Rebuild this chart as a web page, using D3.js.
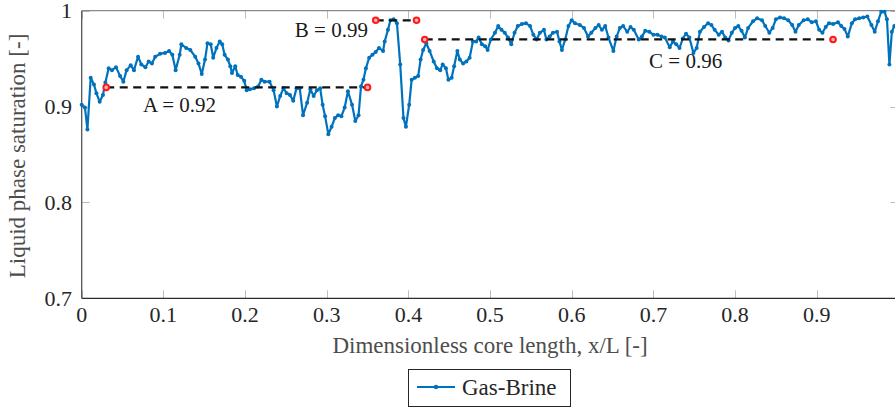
<!doctype html>
<html>
<head>
<meta charset="UTF-8">
<title>Liquid phase saturation</title>
<style>
	body { margin: 0; background: #fff; }
	#container { font-size: 0; }
	svg text { font-family: "Liberation Serif", "Times New Roman", "DejaVu Serif", serif; }
</style>
</head>
<body>
<div id="container"></div>
<script src="https://cdn.jsdelivr.net/npm/d3@7"></script>
<script>
	var w = 895;
	var h = 408;

	// x/L positions and liquid saturation
	var xPos = [0.000, 0.004, 0.007, 0.011, 0.015, 0.018, 0.022, 0.026, 0.029, 0.033,
		0.037, 0.042, 0.047, 0.051, 0.055, 0.060, 0.064, 0.069, 0.073, 0.078,
		0.082, 0.086, 0.090, 0.096, 0.102, 0.107, 0.111, 0.115, 0.120, 0.122,
		0.128, 0.133, 0.139, 0.143, 0.147, 0.151, 0.154, 0.158, 0.161, 0.165,
		0.169, 0.172, 0.175, 0.179, 0.182, 0.184, 0.188, 0.191, 0.195, 0.199,
		0.202, 0.206, 0.211, 0.216, 0.220, 0.224, 0.230, 0.235, 0.239, 0.243,
		0.247, 0.251, 0.255, 0.259, 0.263, 0.267, 0.271, 0.276, 0.280, 0.284,
		0.288, 0.292, 0.295, 0.298, 0.302, 0.306, 0.310, 0.314, 0.318, 0.322,
		0.326, 0.331, 0.335, 0.339, 0.342, 0.345, 0.348, 0.352, 0.356, 0.360,
		0.364, 0.369, 0.371, 0.375, 0.378, 0.382, 0.386, 0.390, 0.394, 0.397,
		0.401, 0.404, 0.408, 0.412, 0.415, 0.418, 0.422, 0.426, 0.431, 0.435,
		0.439, 0.442, 0.446, 0.449, 0.453, 0.456, 0.460, 0.463, 0.467, 0.471,
		0.475, 0.479, 0.483, 0.486, 0.490, 0.494, 0.497, 0.501, 0.506, 0.510,
		0.514, 0.518, 0.522, 0.526, 0.530, 0.534, 0.539, 0.544, 0.549, 0.553,
		0.557, 0.561, 0.566, 0.569, 0.573, 0.577, 0.582, 0.585, 0.588, 0.592,
		0.596, 0.600, 0.604, 0.610, 0.615, 0.620, 0.624, 0.629, 0.633, 0.637,
		0.641, 0.645, 0.651, 0.655, 0.659, 0.663, 0.668, 0.672, 0.676, 0.682,
		0.686, 0.690, 0.695, 0.700, 0.705, 0.710, 0.714, 0.720, 0.724, 0.728,
		0.732, 0.736, 0.740, 0.744, 0.749, 0.753, 0.757, 0.762, 0.767, 0.771,
		0.775, 0.780, 0.784, 0.788, 0.792, 0.796, 0.800, 0.804, 0.808, 0.812,
		0.816, 0.822, 0.827, 0.833, 0.837, 0.842, 0.846, 0.850, 0.855, 0.860,
		0.865, 0.870, 0.874, 0.878, 0.884, 0.889, 0.894, 0.899, 0.903, 0.907,
		0.911, 0.915, 0.920, 0.926, 0.930, 0.934, 0.938, 0.943, 0.947, 0.952,
		0.957, 0.962, 0.967, 0.971, 0.975, 0.979, 0.983, 0.986, 0.989, 0.992,
		0.995, 0.999];
	var saturation = [0.902, 0.899, 0.876, 0.930, 0.923, 0.914, 0.905, 0.912, 0.925, 0.940,
		0.938, 0.941, 0.932, 0.926, 0.938, 0.943, 0.938, 0.952, 0.944, 0.941,
		0.947, 0.945, 0.952, 0.955, 0.956, 0.958, 0.954, 0.938, 0.954, 0.965,
		0.961, 0.959, 0.952, 0.945, 0.934, 0.949, 0.966, 0.965, 0.951, 0.961,
		0.968, 0.965, 0.954, 0.949, 0.942, 0.935, 0.942, 0.933, 0.931, 0.927,
		0.917, 0.918, 0.919, 0.921, 0.928, 0.926, 0.926, 0.917, 0.900, 0.911,
		0.919, 0.914, 0.912, 0.906, 0.919, 0.919, 0.891, 0.904, 0.918, 0.911,
		0.917, 0.919, 0.902, 0.890, 0.871, 0.879, 0.888, 0.891, 0.890, 0.899,
		0.916, 0.902, 0.885, 0.891, 0.921, 0.928, 0.940, 0.951, 0.954, 0.957,
		0.961, 0.958, 0.968, 0.980, 0.990, 0.991, 0.987, 0.944, 0.888, 0.879,
		0.902, 0.928, 0.930, 0.932, 0.949, 0.959, 0.966, 0.958, 0.947, 0.940,
		0.938, 0.944, 0.940, 0.928, 0.930, 0.942, 0.958, 0.949, 0.945, 0.947,
		0.951, 0.968, 0.968, 0.972, 0.965, 0.963, 0.959, 0.970, 0.977, 0.984,
		0.980, 0.977, 0.972, 0.965, 0.977, 0.984, 0.986, 0.987, 0.984, 0.975,
		0.970, 0.977, 0.980, 0.970, 0.973, 0.977, 0.978, 0.968, 0.959, 0.970,
		0.984, 0.990, 0.987, 0.985, 0.982, 0.973, 0.977, 0.982, 0.985, 0.980,
		0.984, 0.972, 0.958, 0.973, 0.982, 0.984, 0.978, 0.983, 0.980, 0.970,
		0.973, 0.979, 0.978, 0.975, 0.975, 0.973, 0.972, 0.962, 0.968, 0.965,
		0.961, 0.971, 0.976, 0.972, 0.956, 0.961, 0.978, 0.983, 0.987, 0.985,
		0.980, 0.975, 0.978, 0.972, 0.969, 0.977, 0.982, 0.984, 0.979, 0.972,
		0.982, 0.989, 0.992, 0.990, 0.984, 0.977, 0.982, 0.991, 0.993, 0.992,
		0.990, 0.985, 0.978, 0.985, 0.990, 0.991, 0.988, 0.989, 0.980, 0.977,
		0.983, 0.987, 0.986, 0.988, 0.984, 0.981, 0.973, 0.987, 0.991, 0.992,
		0.993, 0.994, 0.985, 0.978, 0.989, 0.999, 0.999, 0.991, 0.944, 0.978,
		0.984, 0.982];

	var xTicks = [0, 0.1, 0.2, 0.3, 0.4, 0.5, 0.6, 0.7, 0.8, 0.9, 1];
	var yTicks = [0.7, 0.8, 0.9, 1];

	// marked levels A, B, C
	var levelNames = ["A", "B", "C"];
	var levelValues = [0.92, 0.99, 0.96];
	var levelLineY = [0.92, 0.99, 0.97];
	var levelStart = [0.03, 0.36, 0.42];
	var levelEnd = [0.35, 0.41, 0.92];

	var seriesName = "Gas-Brine";

	var serif = "'Liberation Serif', 'Times New Roman', 'DejaVu Serif', serif";

	var xScale = d3.scaleLinear().domain([0, 1]).range([81.7, 898.4]);
	var yScale = d3.scaleLinear().domain([0.7, 1]).range([298.3, 10.7]);

	var svg = d3.select("#container")
			.append("svg")
			.attr("width", w)
			.attr("height", h)
			.attr("font-family", serif)
			.style("font-family", serif);

	// ticks inside the box (bottom / left / top / right)
	var tickLen = 8;
	var gTicks = svg.append("g").attr("stroke", "#bdbdbd").attr("stroke-width", 1);
	xTicks.forEach(function (t) {
		var x = Math.round(xScale(t)) + 0.5;
		gTicks.append("line").attr("x1", x).attr("x2", x)
				.attr("y1", yScale(0.7)).attr("y2", yScale(0.7) - tickLen);
		gTicks.append("line").attr("x1", x).attr("x2", x)
				.attr("y1", yScale(1)).attr("y2", yScale(1) + tickLen);
	});
	yTicks.forEach(function (t) {
		var y = Math.round(yScale(t)) + 0.5;
		gTicks.append("line").attr("x1", xScale(0)).attr("x2", xScale(0) + tickLen)
				.attr("y1", y).attr("y2", y);
		gTicks.append("line").attr("x1", xScale(1)).attr("x2", xScale(1) - tickLen)
				.attr("y1", y).attr("y2", y);
	});

	// box
	svg.append("line").attr("x1", xScale(0)).attr("x2", xScale(1))
			.attr("y1", yScale(1)).attr("y2", yScale(1))
			.attr("stroke", "#8a8a8a").attr("stroke-width", 1.2);
	svg.append("line").attr("x1", xScale(1)).attr("x2", xScale(1))
			.attr("y1", yScale(1)).attr("y2", yScale(0.7))
			.attr("stroke", "#8a8a8a").attr("stroke-width", 1.2);
	svg.append("line").attr("x1", xScale(0)).attr("x2", xScale(1))
			.attr("y1", yScale(0.7)).attr("y2", yScale(0.7))
			.attr("stroke", "#2b2b2b").attr("stroke-width", 1.3);
	svg.append("line").attr("x1", xScale(0)).attr("x2", xScale(0))
			.attr("y1", yScale(1)).attr("y2", yScale(0.7))
			.attr("stroke", "#555555").attr("stroke-width", 1.3);

	// tick labels
	svg.selectAll("text.xt")
			.data(xTicks)
			.enter()
			.append("text")
			.attr("class", "xt")
			.attr("x", function (d) { return xScale(d); })
			.attr("y", 322)
			.attr("text-anchor", "middle")
			.attr("font-size", 22)
			.attr("fill", "#262626")
			.text(function (d) { return d3.format("")(d); });
	svg.selectAll("text.yt")
			.data(yTicks)
			.enter()
			.append("text")
			.attr("class", "yt")
			.attr("x", 72)
			.attr("y", function (d) { return yScale(d) + 7.5; })
			.attr("text-anchor", "end")
			.attr("font-size", 22)
			.attr("fill", "#262626")
			.text(function (d) { return d3.format("")(d); });

	// axis labels
	svg.append("text")
			.attr("x", xScale(0.5))
			.attr("y", 353)
			.attr("text-anchor", "middle")
			.attr("font-size", 23)
			.attr("fill", "#4d4d4d")
			.text("Dimensionless core length, x/L [-]");
	svg.append("text")
			.attr("transform", "translate(25," + 156 + ") rotate(-90)")
			.attr("text-anchor", "middle")
			.attr("font-size", 23)
			.attr("fill", "#4d4d4d")
			.text("Liquid phase saturation [-]");

	// the measured curve
	var pts = xPos.map(function (x, i) { return [x, saturation[i]]; });
	var line = d3.line()
			.x(function (d) { return xScale(d[0]); })
			.y(function (d) { return yScale(d[1]); });
	svg.append("path")
			.datum(pts)
			.attr("d", line)
			.attr("fill", "none")
			.attr("stroke", "#0072BD")
			.attr("stroke-width", 2.2)
			.attr("stroke-linejoin", "round");
	svg.selectAll("circle.pt")
			.data(pts)
			.enter()
			.append("circle")
			.attr("class", "pt")
			.attr("cx", function (d) { return xScale(d[0]); })
			.attr("cy", function (d) { return yScale(d[1]); })
			.attr("r", 2)
			.attr("fill", "#0072BD");

	// dashed levels with red end markers
	levelNames.forEach(function (n, i) {
		svg.append("line")
				.attr("x1", xScale(levelStart[i]))
				.attr("x2", xScale(levelEnd[i]))
				.attr("y1", yScale(levelLineY[i]))
				.attr("y2", yScale(levelLineY[i]))
				.attr("stroke", "#111")
				.attr("stroke-width", 2.2)
				.attr("stroke-dasharray", "8,5.5");
		[levelStart[i], levelEnd[i]].forEach(function (x) {
			svg.append("circle")
					.attr("cx", xScale(x))
					.attr("cy", yScale(levelLineY[i]))
					.attr("r", 2.8)
					.attr("fill", "#ffb3b3")
					.attr("stroke", "#ff1a1a")
					.attr("stroke-width", 2);
		});
	});

	// level labels (left edge / baseline, in data units)
	var labelAt = [[0.075, 0.8943], [0.261, 0.9726], [0.6947, 0.9402]];
	levelNames.forEach(function (n, i) {
		svg.append("text")
				.attr("x", xScale(labelAt[i][0]))
				.attr("y", yScale(labelAt[i][1]))
				.attr("font-size", 21)
				.attr("fill", "#1a1a1a")
				.text(n + " = " + levelValues[i].toFixed(2));
	});

	// legend
	var lg = svg.append("g");
	lg.append("rect")
			.attr("x", 408.5).attr("y", 369.5)
			.attr("width", 162).attr("height", 37)
			.attr("fill", "#fff")
			.attr("stroke", "#262626")
			.attr("stroke-width", 1);
	lg.append("line")
			.attr("x1", 417).attr("x2", 455)
			.attr("y1", 387).attr("y2", 387)
			.attr("stroke", "#0072BD").attr("stroke-width", 2.2);
	lg.append("circle")
			.attr("cx", 436).attr("cy", 387).attr("r", 2.2)
			.attr("fill", "#0072BD");
	lg.append("text")
			.attr("x", 462).attr("y", 395)
			.attr("font-size", 23)
			.attr("fill", "#262626")
			.text(seriesName);
</script>
</body>
</html>
